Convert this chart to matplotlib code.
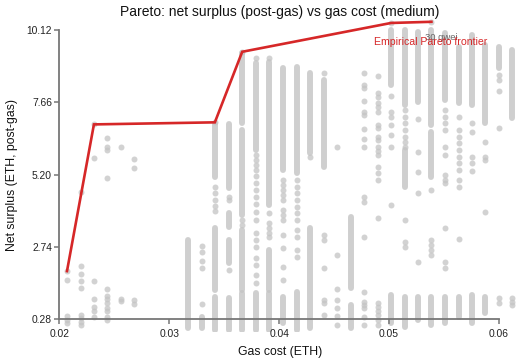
import matplotlib
matplotlib.use("Agg")
import matplotlib.pyplot as plt

# ---- data ----
COL_X = [0.02070, 0.02195, 0.02315, 0.02436, 0.02558, 0.02682,
         0.03173, 0.03295, 0.03415, 0.03543, 0.03664, 0.03788,
         0.03909, 0.04034, 0.04158, 0.04279, 0.04404, 0.04525,
         0.04649, 0.04773, 0.04897, 0.05018, 0.05143, 0.05264,
         0.05385, 0.05513, 0.05634, 0.05755, 0.05876, 0.06000,
         0.06122]

# isolated points per column (net surplus, ETH)
COL_DOTS = [
    [1.92, 1.63, 0.39, 0.26, 0.16],
    [4.62, 2.09, 1.81, 1.59, 1.35, 0.43, 0.31, 0.20, 0.09],
    [6.91, 5.78, 1.59, 0.98, 0.71, 0.56, 0.37],
    [6.46, 6.15, 6.04, 5.10, 1.30, 1.08, 0.96, 0.82, 0.65, 0.56, 0.37, 0.26],
    [6.14, 0.97, 0.90],
    [5.73, 5.44, 0.94, 0.80],
    [],
    [2.78, 2.58, 2.25, 2.03, 0.80],
    [6.98, 4.78, 4.58, 4.34, 4.13, 3.96],
    [4.44, 4.34, 1.96],
    [9.38, 3.66, 3.49],
    [9.17, 5.87, 5.70, 5.53, 5.36, 5.16, 4.92, 4.68, 4.44, 4.20, 3.93, 3.66,
     3.22, 2.98, 2.74, 2.37, 2.13, 1.79, 1.52],
    [9.17, 3.90, 3.56, 3.39, 3.22, 3.08],
    [5.02, 4.85, 4.68, 4.51, 4.34, 4.00, 3.83, 3.66, 3.15, 2.71, 2.06, 1.62],
    [5.02, 4.78, 4.58, 4.34, 4.10, 3.90, 3.66, 3.32, 3.08, 2.64, 2.40],
    [5.80],
    [8.66, 3.15, 2.98, 2.03, 0.94, 0.84, 0.43],
    [6.14, 2.47, 1.31, 0.94, 0.67, 0.39, 0.09],
    [],
    [8.66, 8.25, 8.15, 7.71, 7.33, 7.23, 6.75, 6.41, 6.14, 4.44, 4.27, 3.08,
     1.21, 0.87, 0.77, 0.67, 0.36, 0.09],
    [8.56, 7.98, 7.84, 7.64, 7.50, 7.33, 6.89, 6.79, 6.48, 6.38, 6.14, 6.01,
     5.87, 5.46, 5.26, 5.02, 3.73, 0.84, 0.70, 0.56, 0.43, 0.26, 0.09],
    [10.36, 7.88, 7.33, 7.16, 6.89, 6.55, 6.14, 4.17],
    [7.40, 7.16, 6.96, 6.72, 6.48, 6.31, 6.14, 3.66, 2.91, 2.74],
    [7.09, 5.97, 5.29, 4.58, 2.23],
    [10.40, 4.68, 2.98, 2.81, 2.64, 2.47],
    [7.40, 7.16, 6.96, 6.72, 6.14, 5.87, 5.19, 5.02, 4.92, 3.39, 2.23, 2.03],
    [7.16, 6.72, 6.48, 6.28, 6.04, 5.80, 5.60, 5.36, 5.02, 4.78, 3.01],
    [6.96, 6.65, 5.80, 5.60, 5.33],
    [6.31, 5.80, 5.70, 3.93],
    [8.59, 8.42, 8.05, 6.79, 1.01, 0.84],
    [1.01, 0.87, 0.77],
]

# runs of overlapping points per column: (low, high)
COL_RUNS = [
    [], [], [], [], [], [],
    [(-0.02, 2.98)],
    [(-0.02, 0.36)],
    [(5.12, 6.92), (1.28, 3.39), (-0.08, 1.04)],
    [(4.75, 6.92), (3.42, 3.90), (2.20, 2.98), (-0.08, 1.01)],
    [(6.96, 9.34), (3.83, 6.72), (1.28, 3.32), (-0.08, 1.18)],
    [(6.04, 9.00), (-0.08, 1.18)],
    [(4.17, 9.03), (1.28, 2.64), (-0.08, 1.18)],
    [(5.36, 8.83), (0.16, 1.04)],
    [(5.26, 8.86), (-0.08, 1.21)],
    [(5.94, 8.66), (-0.02, 3.39)],
    [(5.46, 8.42)],
    [],
    [(1.35, 3.76), (-0.02, 0.77)],
    [],
    [],
    [(8.25, 10.12), (0.16, 1.11)],
    [(7.57, 10.12), (4.78, 6.04), (0.02, 1.04)],
    [(7.67, 10.05), (0.26, 1.04)],
    [(6.89, 10.12), (5.12, 6.65), (0.09, 1.04)],
    [(7.74, 10.02), (0.16, 1.04)],
    [(7.64, 9.54), (0.36, 1.04)],
    [(7.57, 9.95), (0.16, 1.11)],
    [(6.96, 9.61), (0.50, 1.04)],
    [(8.83, 9.54)],
    [(7.13, 9.44)],
]

FRONTIER_X = [0.02070, 0.02315, 0.03415, 0.03664, 0.05018, 0.05385]
FRONTIER_Y = [1.92, 6.91, 6.98, 9.38, 10.36, 10.40]

Y_TICKS = [0.28, 2.74, 5.20, 7.66, 10.12]
X_TICKS = [0.02, 0.03, 0.04, 0.05, 0.06]

TITLE = "Pareto: net surplus (post-gas) vs gas cost (medium)"
# ---------------------------------

plt.rcParams.update({"font.family": ["Liberation Sans", "DejaVu Sans"]})

DOT = "#c4c4c4"
AXC = "#777777"

fig = plt.figure(figsize=(5.2, 3.6), dpi=100)
ax = fig.add_axes([55 / 520, 28 / 360, 463 / 520, 317 / 360])
ax.set_xlim(0.019609, 0.061727)
ax.set_ylim(-0.151, 10.631)

dot_size = 4.3 ** 2
for x, ys, runs in zip(COL_X, COL_DOTS, COL_RUNS):
    if ys:
        ax.scatter([x] * len(ys), ys, s=dot_size, color=DOT, alpha=0.75,
                   linewidths=0, zorder=1)
    for lo, hi in runs:
        ax.plot([x, x], [lo, hi], color=DOT, alpha=0.8, linewidth=4.3,
                solid_capstyle="round", zorder=1)

ax.plot(FRONTIER_X, FRONTIER_Y, color="#d62728", linewidth=1.9, zorder=3,
        solid_joinstyle="miter")

ax.text(0.05479, 9.86, "30 gwei", color="#666666", fontsize=6.8,
        ha="center", va="center", zorder=4)
ax.text(0.05375, 9.72, "Empirical Pareto frontier", color="#d62728",
        fontsize=7.6, ha="center", va="center", zorder=4)

for s in ("top", "right"):
    ax.spines[s].set_visible(False)
ax.spines["left"].set_position(("data", 0.02))
ax.spines["left"].set_bounds(0.28, 10.12)
ax.spines["bottom"].set_position(("data", 0.28))
ax.spines["bottom"].set_bounds(0.02, 0.06)
for s in ("left", "bottom"):
    ax.spines[s].set_color(AXC)
    ax.spines[s].set_linewidth(1.3)
    ax.spines[s].set_zorder(2)

ax.set_xticks(X_TICKS)
ax.set_xticklabels([f"{v:.2f}" for v in X_TICKS])
ax.set_yticks(Y_TICKS)
ax.set_yticklabels([f"{v:.2f}" for v in Y_TICKS])
ax.tick_params(axis="both", direction="out", length=3.8, width=1.1,
               color=AXC, labelsize=7.4, labelcolor="#222222")
ax.tick_params(axis="y", pad=1.5)
ax.tick_params(axis="x", pad=3)

fig.text(280 / 520, 1 - 12 / 360, TITLE, fontsize=10, ha="center",
         va="center", color="#111111")
fig.text(280 / 520, 1 - 352 / 360, "Gas cost (ETH)", fontsize=8.8,
         ha="center", va="center", color="#111111")
fig.text(12 / 520, 1 - 175 / 360, "Net surplus (ETH, post-gas)",
         fontsize=8.8, ha="center", va="center", rotation=90,
         color="#111111")

fig.savefig("out.png", dpi=100)
